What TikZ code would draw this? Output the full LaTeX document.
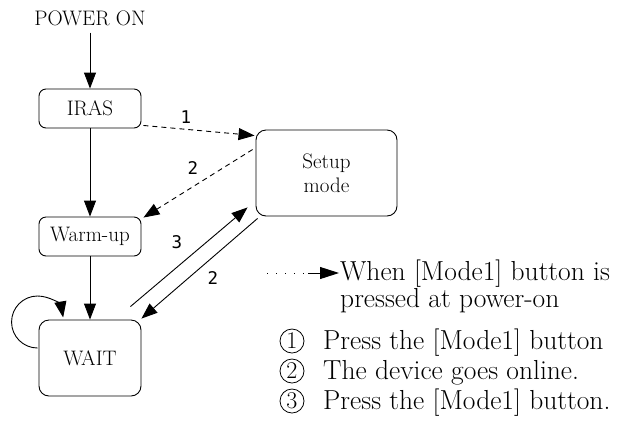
\documentclass[tikz,border=0pt]{standalone}
\usepackage{fontspec}
\newfontfamily\labfont{DejaVu Sans Mono}
\usetikzlibrary{arrows.meta,calc}
\begin{document}
\begin{tikzpicture}[x=1pt,y=-1pt,
  box/.style={draw, rounded corners=7pt, minimum width=102pt, minimum height=39pt,
    font=\fontsize{21}{24}\selectfont, inner sep=0pt, line width=0.9pt},
  arr/.style={-{Triangle[length=16pt,width=12pt]}, line width=0.9pt},
  dsh/.style={arr, dash pattern=on 5pt off 4pt},
  lab/.style={font=\labfont\fontsize{17.5}{17.5}\selectfont, inner sep=0pt},
  leg/.style={font=\fontsize{27.5}{30}\selectfont, anchor=base west, inner sep=0pt},
  num/.style={circle, draw, line width=0.8pt, minimum size=24pt, inner sep=0pt,
    font=\fontsize{24}{24}\selectfont}]
\useasboundingbox (0,0) rectangle (617,445);
% nodes
\node[font=\fontsize{21}{24}\selectfont, inner sep=0pt] (power) at (90,18) {POWER ON};
\node[box] (iras) at (90,108.5) {IRAS};
\node[box] (warm) at (90,236.5) {Warm-up};
\node[box, rounded corners=10pt, minimum height=76pt] (wait) at (90,358) {WAIT};
\node[box, rounded corners=10pt, minimum width=141pt, minimum height=86pt, align=center]
  (setup) at (326.5,173) {Setup\\mode};
% connectors
\draw[arr] ($(power.south)+(0,7)$) -- (iras.north);
\draw[arr] (iras) -- (warm);
\draw[arr] (warm) -- (wait);
\draw[dsh] ($(iras.south east)+(2,-3)$) -- ($(setup.north west)+(-1,6)$);
\draw[dsh] ($(setup.north west)+(-3,20)$) -- ($(warm.north east)+(2,1)$);
\draw[arr] ($(wait.north east)+(-11,-13)$) -- ($(setup.south west)+(-8,-9)$);
\draw[arr] ($(setup.south west)+(2,2)$) -- ($(wait.north east)+(0,-1)$);
\draw[arr] ($(wait.west)+(-1,-10)$) arc[start angle=90, end angle=350, radius=26];
% connector labels
\node[lab] (l1) at (186,117) {1};
\node[lab] (l2a) at (193,168) {2};
\node[lab] (l3) at (177,242) {3};
\node[lab] (l2b) at (213,278) {2};
% legend
\coordinate (la) at (267,273);
\coordinate (lb) at (308,273);
\coordinate (lc) at (339,273);
\draw[line width=0.9pt, dash pattern=on 1pt off 8pt] (la) -- (lb);
\draw[-{Triangle[length=19pt,width=12pt]}, line width=0.9pt] (lb) -- (lc);
\node[leg] (t1) at (340,280) {When [Mode1] button is};
\node[leg] (t2) at (340,307) {pressed at power-on};
\node[num] (c1) at (292,341) {1};
\node[leg] (t3) at (323,349) {Press the [Mode1] button};
\node[num] (c2) at (292,371) {2};
\node[leg] (t4) at (323,379) {The device goes online.};
\node[num] (c3) at (292,401) {3};
\node[leg] (t5) at (323,409) {Press the [Mode1] button.};
\end{tikzpicture}
\end{document}
